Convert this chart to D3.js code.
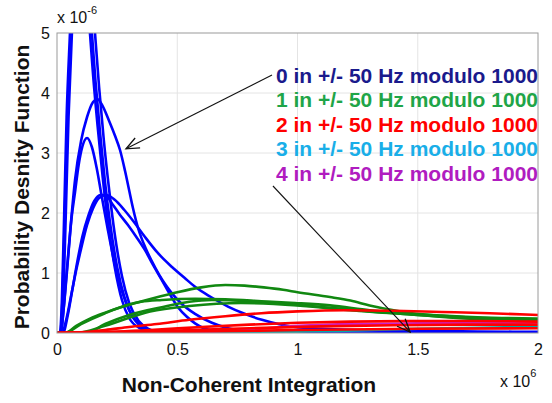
<!DOCTYPE html>
<html><head><meta charset="utf-8">
<script src="https://cdn.jsdelivr.net/npm/d3@7"></script>
<style>
body{margin:0;background:#fff;}
svg{display:block;font-family:Arial,"Liberation Sans",sans-serif;}
</style></head><body>
<svg id="c" width="552" height="403"></svg>
<script>
// ---- data (x in units of 1e6, y in units of 1e-6) ----
const xTicks = [0, 0.5, 1, 1.5, 2];
const xTickLabels = ["0", "0.5", "1", "1.5", "2"];
const yTicks = [0, 1, 2, 3, 4, 5];
const yTickLabels = ["0", "1", "2", "3", "4", "5"];
const legendLabels = ["0 in +/- 50 Hz modulo 1000","1 in +/- 50 Hz modulo 1000","2 in +/- 50 Hz modulo 1000","3 in +/- 50 Hz modulo 1000","4 in +/- 50 Hz modulo 1000"];

const blueT1 = [[0,0],[0.012,0],[0.02,0.5],[0.03,2.0],[0.04,3.6],[0.054,5.0],[0.065,6.0],[0.08,6.8],[0.095,6.9],[0.11,6.4],[0.125,5.6],[0.137,5.0],[0.15,4.3],[0.17,3.4],[0.19,2.6],[0.21,1.9],[0.24,1.1],[0.27,0.55],[0.3,0.25],[0.34,0.09],[0.4,0.02],[0.5,0],[2,0]];
const blueT2 = [[0,0],[0.014,0],[0.022,0.5],[0.032,1.9],[0.044,3.6],[0.058,5.0],[0.07,6.1],[0.085,6.9],[0.1,7.1],[0.115,6.7],[0.13,5.9],[0.145,5.0],[0.16,4.2],[0.18,3.3],[0.2,2.5],[0.22,1.85],[0.25,1.1],[0.28,0.6],[0.31,0.3],[0.35,0.11],[0.41,0.02],[0.5,0],[2,0]];
const blueT3 = [[0,0],[0.016,0],[0.025,0.5],[0.036,1.9],[0.048,3.6],[0.062,5.0],[0.075,6.0],[0.09,6.8],[0.105,7.1],[0.12,6.9],[0.14,6.0],[0.158,5.0],[0.175,4.1],[0.195,3.2],[0.215,2.45],[0.24,1.65],[0.27,0.95],[0.3,0.5],[0.34,0.2],[0.38,0.07],[0.44,0.01],[0.5,0],[2,0]];
const blueB3 = [[0,0],[0.015,0],[0.025,0.3],[0.04,1.0],[0.055,1.7],[0.075,2.55],[0.1,3.2],[0.125,3.6],[0.15,3.85],[0.168,3.9],[0.19,3.78],[0.215,3.55],[0.24,3.3],[0.262,3.05],[0.283,2.7],[0.3,2.38],[0.316,2.08],[0.337,1.75],[0.37,1.4],[0.407,1.1],[0.44,0.87],[0.478,0.66],[0.52,0.48],[0.574,0.32],[0.644,0.17],[0.711,0.08],[0.8,0.03],[0.9,0.01],[1.0,0],[2,0]];
const blueB4 = [[0,0],[0.015,0],[0.03,0.5],[0.045,1.2],[0.06,1.9],[0.075,2.35],[0.09,2.8],[0.105,3.1],[0.125,3.25],[0.145,3.1],[0.165,2.75],[0.185,2.3],[0.21,1.75],[0.24,1.15],[0.27,0.7],[0.3,0.38],[0.34,0.15],[0.39,0.04],[0.45,0],[2,0]];
const blueB5 = [[0,0],[0.02,0],[0.04,0.25],[0.06,0.65],[0.08,1.05],[0.1,1.4],[0.125,1.8],[0.15,2.08],[0.175,2.25],[0.205,2.3],[0.24,2.22],[0.28,2.05],[0.32,1.85],[0.366,1.6],[0.42,1.33],[0.478,1.1],[0.53,0.92],[0.574,0.77],[0.64,0.6],[0.711,0.44],[0.78,0.32],[0.852,0.22],[0.92,0.15],[0.99,0.1],[1.1,0.07],[1.25,0.05],[1.5,0.035],[1.75,0.025],[2.0,0.02]];
const blueB6 = [[0,0],[0.025,0],[0.045,0.3],[0.065,0.75],[0.085,1.2],[0.105,1.6],[0.13,1.95],[0.155,2.2],[0.18,2.3],[0.2,2.3],[0.23,2.15],[0.26,1.98],[0.295,1.8],[0.33,1.6],[0.366,1.38],[0.4,1.13],[0.436,0.88],[0.47,0.64],[0.503,0.43],[0.54,0.27],[0.574,0.16],[0.61,0.08],[0.644,0.04],[0.7,0.01],[0.8,0],[2,0]];

const greenG1 = [[0,0],[0.033,0],[0.08,0.12],[0.137,0.24],[0.2,0.34],[0.3,0.47],[0.4,0.58],[0.5,0.68],[0.6,0.76],[0.7,0.8],[0.78,0.79],[0.86,0.76],[0.94,0.72],[1.0,0.68],[1.135,0.6],[1.22,0.54],[1.3,0.46],[1.4,0.38],[1.52,0.31],[1.6,0.29],[1.7,0.27],[1.85,0.25],[2.0,0.24]];
const greenG2 = [[0,0],[0.03,0],[0.1,0.15],[0.2,0.33],[0.295,0.47],[0.35,0.52],[0.436,0.55],[0.574,0.57],[0.7,0.56],[0.85,0.53],[0.99,0.5],[1.135,0.46],[1.3,0.38],[1.5,0.31],[1.7,0.26],[2.0,0.22]];
const greenG3 = [[0,0],[0.12,0],[0.2,0.15],[0.3,0.3],[0.436,0.43],[0.55,0.52],[0.644,0.55],[0.8,0.53],[0.99,0.47],[1.135,0.42],[1.3,0.36],[1.5,0.3],[1.7,0.25],[2.0,0.2]];
const greenG4 = [[0,0],[0.08,0],[0.2,0.12],[0.387,0.36],[0.55,0.45],[0.765,0.5],[1.0,0.46],[1.22,0.38],[1.5,0.3],[1.75,0.23],[2.0,0.18]];

const redR1 = [[0,0],[0.1,0.01],[0.2,0.05],[0.3,0.1],[0.415,0.15],[0.55,0.22],[0.7,0.28],[0.85,0.33],[1.0,0.36],[1.2,0.38],[1.4,0.37],[1.6,0.35],[1.8,0.33],[2.0,0.3]];
const redR2 = [[0,0],[0.15,0.01],[0.387,0.05],[0.6,0.1],[0.8,0.14],[1.0,0.17],[1.22,0.19],[1.5,0.2],[1.75,0.2],[2.0,0.19]];
const redR3 = [[0,0],[0.2,0.01],[0.5,0.04],[0.8,0.08],[1.1,0.11],[1.4,0.13],[1.7,0.14],[2.0,0.14]];
const redR4 = [[0,0],[0.3,0.01],[0.7,0.03],[1.0,0.05],[1.5,0.07],[2.0,0.08]];
const cyanC1 = [[0,0],[0.8,0.01],[1.2,0.04],[1.5,0.07],[1.8,0.09],[2.0,0.1]];
const magentaM1 = [[0,0],[0.5,0.01],[0.8,0.06],[1.0,0.12],[1.2,0.15],[1.5,0.16],[2.0,0.17]];

// arrows (data units): [tail, tip]
const arrow1 = [[0.894, 4.3], [0.287, 3.07]];
const arrow2 = [[0.898, 2.45], [1.468, 0.017]];

// ---- drawing ----
const svg = d3.select("#c");
const x = d3.scaleLinear().domain([0, 2]).range([57, 538]);
const y = d3.scaleLinear().domain([0, 5]).range([333, 33]);

svg.append("rect").attr("width",552).attr("height",403).attr("fill","#fff");

// grid
const grid = svg.append("g");
grid.selectAll(".gx").data(xTicks.slice(1,-1)).enter().append("line")
  .attr("x1",d=>x(d)).attr("x2",d=>x(d)).attr("y1",y(0)).attr("y2",y(5))
  .attr("stroke","#e4e4e4").attr("stroke-width",1);
grid.selectAll(".gy").data(yTicks.slice(1,-1)).enter().append("line")
  .attr("y1",d=>y(d)).attr("y2",d=>y(d)).attr("x1",x(0)).attr("x2",x(2))
  .attr("stroke","#e4e4e4").attr("stroke-width",1);

svg.append("defs").append("clipPath").attr("id","clip").append("rect")
  .attr("x",x(0)).attr("y",y(5)).attr("width",x(2)-x(0)).attr("height",y(0)-y(5));

const line = d3.line().x(d=>x(d[0])).y(d=>y(d[1])).curve(d3.curveMonotoneX);
const series = [
  {c:"#0000ff", s:[blueT1,blueT2,blueT3,blueB3,blueB4,blueB5,blueB6]},
  {c:"#118811", s:[greenG1,greenG2,greenG3,greenG4]},
  {c:"#00aaaa", s:[cyanC1]},
  {c:"#cc22cc", s:[magentaM1]},
  {c:"#ff0000", s:[redR4,redR3,redR2,redR1]}
];
const plot = svg.append("g").attr("clip-path","url(#clip)");
series.forEach(g=>{
  g.s.forEach(d=>{
    plot.append("path").datum(d).attr("d",line).attr("fill","none")
      .attr("stroke",g.c).attr("stroke-width",2.6).attr("stroke-linejoin","round");
  });
});

// box
svg.append("rect").attr("x",x(0)).attr("y",y(5)).attr("width",x(2)-x(0)).attr("height",y(0)-y(5))
  .attr("fill","none").attr("stroke","#9a9a9a").attr("stroke-width",1);

// axes
const xa = svg.append("g").attr("transform",`translate(0,${y(0)})`)
  .call(d3.axisBottom(x).tickValues(xTicks).tickFormat((d,i)=>xTickLabels[i]).tickSize(0).tickPadding(11));
const ya = svg.append("g").attr("transform",`translate(${x(0)},0)`)
  .call(d3.axisLeft(y).tickValues(yTicks).tickFormat((d,i)=>yTickLabels[i]).tickSize(0).tickPadding(7));
[xa,ya].forEach(a=>{
  a.select(".domain").remove();
  a.selectAll("text").attr("font-size",16).attr("font-family","Arial, 'Liberation Sans', sans-serif").attr("fill","#111");
});

// exponent labels
const e1 = svg.append("text").attr("x",57).attr("y",23).attr("font-size",16).attr("fill","#111");
e1.append("tspan").text("x 10");
e1.append("tspan").attr("dy",-9).attr("font-size",11).text("-6");
const e2 = svg.append("text").attr("x",500).attr("y",387).attr("font-size",16).attr("fill","#111");
e2.append("tspan").text("x 10");
e2.append("tspan").attr("dy",-10).attr("font-size",11).text("6");

// axis titles
svg.append("text").attr("x",249).attr("y",392).attr("text-anchor","middle")
  .attr("font-size",21).attr("font-weight","bold").attr("fill","#111").text("Non-Coherent Integration");
svg.append("text").attr("transform","translate(29,187) rotate(-90)").attr("text-anchor","middle")
  .attr("font-size",21).attr("font-weight","bold").attr("fill","#111").text("Probability Desnity Function");

// legend
const legendColors = ["#1a1a8c","#1fa548","#ff0000","#19aee8","#b01cc0"];
svg.selectAll(".lg").data(legendLabels).enter().append("text")
  .attr("x",276).attr("y",(d,i)=>83+i*24.4)
  .attr("font-size",21).attr("font-weight","bold")
  .attr("fill",(d,i)=>legendColors[i]).text(d=>d);

// arrows
const defs = svg.select("defs");
defs.append("marker").attr("id","ah").attr("viewBox","-14 -7 16 14").attr("refX",0).attr("refY",0)
  .attr("markerWidth",16).attr("markerHeight",14).attr("markerUnits","userSpaceOnUse").attr("orient","auto")
  .append("path").attr("d","M-13,-5.5 L0,0 L-13,5.5").attr("fill","none").attr("stroke","#111").attr("stroke-width",1.3);
[arrow1, arrow2].forEach(a=>{
  svg.append("line").attr("x1",x(a[0][0])).attr("y1",y(a[0][1])).attr("x2",x(a[1][0])).attr("y2",y(a[1][1]))
    .attr("stroke","#111").attr("stroke-width",1.1).attr("marker-end","url(#ah)");
});
</script>
</body></html>
